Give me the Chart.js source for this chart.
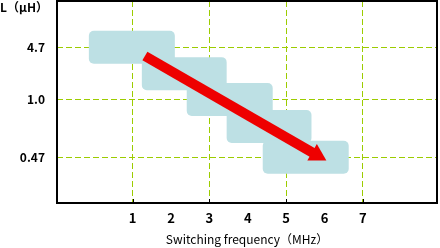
<!DOCTYPE html>
<html>
<head>
<meta charset="utf-8">
<script src="https://cdn.jsdelivr.net/npm/chart.js@4.4.1/dist/chart.umd.min.js"></script>
<style>
  html, body { margin: 0; padding: 0; background: #fff; }
</style>
</head>
<body>
<canvas id="chart" width="440" height="248"></canvas>
<script>
// frequency ticks (MHz)
const freqTicks = [1, 2, 3, 4, 5, 6, 7];
// inductance labels and their place on the vertical axis
const inductanceLabels = ["0.47", "1.0", "4.7"];
const inductancePos = [1, 2.05, 3];

// shaded band, one block per step: frequency span and inductance level
const blockStart = [-0.14, 1.24, 2.41, 3.45, 4.39];
const blockEnd = [2.10, 3.45, 4.65, 5.66, 6.63];
const blockLevel = [3.0, 2.52, 2.05, 1.56, 1.0];

// trend arrow, start and head
const arrowX = [1.32, 5.80];
const arrowY = [2.84, 1.04];

const FONT = '"Noto Sans CJK JP", "DejaVu Sans", sans-serif';
const GRID_GREEN = "#9ccc00";

// black frame, small inner ticks and the unit label at top left
const framePlugin = {
  id: "frame",
  afterDraw(chart) {
    const ctx = chart.ctx;
    const ca = chart.chartArea;
    const xs = chart.scales.x;
    ctx.save();
    ctx.strokeStyle = "#000";
    ctx.lineWidth = 2;
    ctx.strokeRect(ca.left, ca.top, ca.right - ca.left, ca.bottom - ca.top);

    ctx.lineWidth = 1;
    freqTicks.forEach((v) => {
      if (v % 2 === 1) {
        const px = Math.round(xs.getPixelForValue(v)) + 0.5;
        ctx.beginPath();
        ctx.moveTo(px, ca.bottom - 4);
        ctx.lineTo(px, ca.bottom);
        ctx.stroke();
      }
    });

    ctx.fillStyle = "#000";
    ctx.font = "bold 12px " + FONT;
    ctx.textAlign = "left";
    ctx.textBaseline = "alphabetic";
    ctx.fillText("L（μH）", 0, 12);
    ctx.restore();
  },
};

new Chart(document.getElementById("chart"), {
  type: "bar",
  data: {
    datasets: [
      {
        type: "line",
        data: arrowX.map((x, i) => ({ x: x, y: arrowY[i] })),
        borderColor: "#ee0000",
        borderWidth: 10,
        borderCapStyle: "butt",
        pointStyle: "triangle",
        pointRadius: [0, 11],
        pointRotation: [0, 120],
        pointBackgroundColor: "#ee0000",
        pointBorderColor: "#ee0000",
        pointBorderWidth: 0,
        order: 1,
      },
      {
        type: "bar",
        indexAxis: "y",
        data: blockStart.map((s, i) => ({ x: [s, blockEnd[i]], y: blockLevel[i] })),
        backgroundColor: "#bde0e4",
        barThickness: 33,
        borderRadius: 5,
        borderSkipped: false,
        inflateAmount: 0,
        order: 2,
      },
    ],
  },
  options: {
    responsive: false,
    devicePixelRatio: 1,
    animation: false,
    events: [],
    layout: { autoPadding: false, padding: { top: 1, right: 3, left: 0, bottom: 0 } },
    plugins: {
      legend: { display: false },
      tooltip: { enabled: false },
    },
    scales: {
      x: {
        type: "linear",
        offset: false,
        min: -0.97,
        max: 8.93,
        afterBuildTicks: (scale) => {
          scale.ticks = freqTicks.map((v) => ({ value: v }));
        },
        afterFit: (scale) => {
          scale.height = 45;
          scale.paddingLeft = 0;
          scale.paddingRight = 0;
        },
        grid: {
          offset: false,
          drawTicks: false,
          color: (c) => (c.tick && c.tick.value % 2 === 1 ? GRID_GREEN : "rgba(0,0,0,0)"),
        },
        border: { display: false, dash: [6, 3] },
        ticks: {
          color: "#000",
          padding: 7,
          font: { family: FONT, size: 13, weight: "bold" },
          callback: (v) => String(v),
        },
        title: {
          display: true,
          text: "Switching frequency（MHz）",
          color: "#000",
          font: { family: FONT, size: 12 },
          padding: { top: 0, bottom: 1 },
        },
      },
      y: {
        type: "linear",
        offset: false,
        min: 0.17,
        max: 3.84,
        afterBuildTicks: (scale) => {
          scale.ticks = inductancePos.map((v) => ({ value: v }));
        },
        afterFit: (scale) => {
          scale.width = 57;
          scale.paddingTop = 0;
          scale.paddingBottom = 0;
        },
        grid: {
          offset: false,
          drawTicks: false,
          color: GRID_GREEN,
        },
        border: { display: false, dash: [6, 3] },
        ticks: {
          color: "#000",
          padding: 12,
          font: { family: FONT, size: 12, weight: "bold" },
          callback: (v) => {
            const i = inductancePos.indexOf(v);
            return i >= 0 ? inductanceLabels[i] : "";
          },
        },
      },
    },
  },
  plugins: [framePlugin],
});
</script>
</body>
</html>
